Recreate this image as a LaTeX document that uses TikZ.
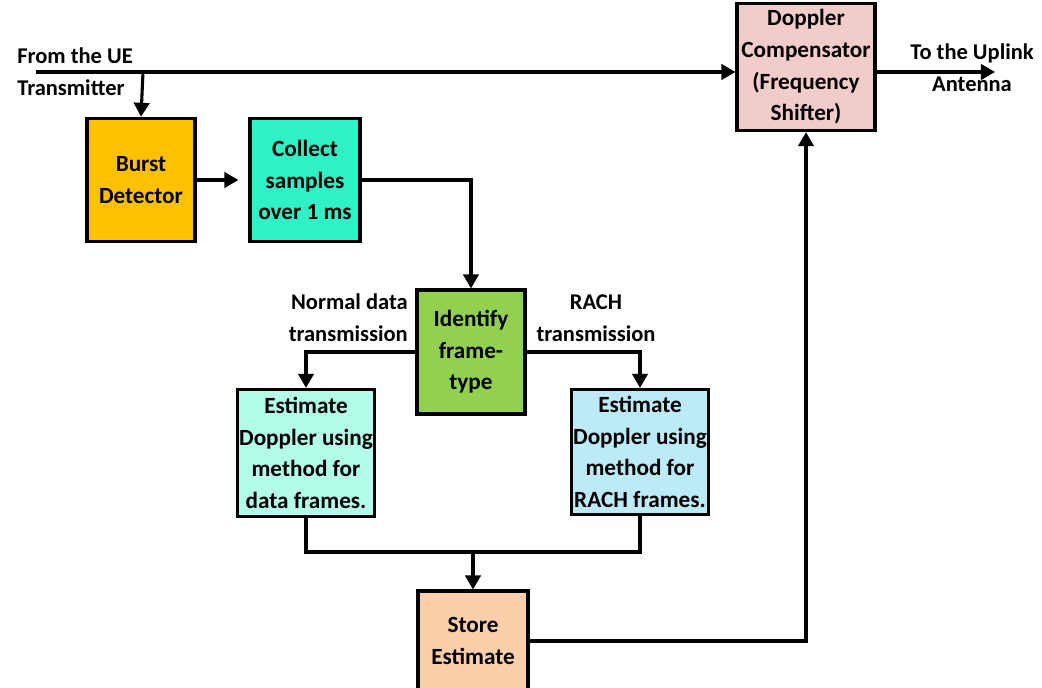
\documentclass[tikz,border=0pt]{standalone}
\usepackage{fontspec}
\setmainfont{Carlito}
\usetikzlibrary{calc,arrows.meta}
\definecolor{burstcol}{HTML}{FFC000}
\definecolor{collectcol}{HTML}{2EF2C6}
\definecolor{identcol}{HTML}{92D050}
\definecolor{estdatacol}{HTML}{B3FCEA}
\definecolor{estrachcol}{HTML}{BDEAF7}
\definecolor{dopcol}{HTML}{F2CBCB}
\definecolor{storecol}{HTML}{FBCFAA}
\tikzset{block/.style={draw=black,line width=2.2pt,align=center,inner sep=1pt,
    font=\fontsize{16.5}{22.5}\selectfont\bfseries},
  flow/.style={line width=2.2pt,-{Triangle[length=10pt,width=11pt]}},
  wire/.style={line width=2.2pt},
  side label/.style={inner sep=0pt,font=\fontsize{16}{22.5}\selectfont\bfseries}}
\def\bw{2.7cm}
\def\bh{3.08cm}

\begin{document}
\begin{tikzpicture}[x=0.025cm,y=-0.025cm]
\useasboundingbox (0,0) rectangle (1042,688);
% 座標設定
\coordinate (in) at (36,72);
\coordinate (tap) at (143,72);
\coordinate (out) at (995,72);
\coordinate (join) at (473,552);
% ブロックの描画
\node[block,fill=burstcol,minimum width=\bw,minimum height=\bh] (burst) at (141,180) {Burst\\Detector};
\node[block,fill=collectcol,minimum width=2.75cm,minimum height=\bh] (collect) at (305,180) {Collect\\samples\\over 1 ms};
\node[block,fill=identcol,minimum width=\bw,minimum height=3.1cm] (identify) at (471,352) {Identify\\frame-\\type};
\node[block,fill=estdatacol,minimum width=3.4cm,minimum height=3.18cm] (estdata) at (306,453) {Estimate\\Doppler using\\method for\\data frames.};
\node[block,fill=estrachcol,minimum width=3.42cm,minimum height=3.13cm] (estrach) at (640,452) {Estimate\\Doppler using\\method for\\RACH frames.};
\node[block,fill=dopcol,minimum width=3.45cm,minimum height=3.18cm] (doppler) at (806,67) {Doppler\\Compensator\\(Frequency\\Shifter)};
\node[block,fill=storecol,minimum width=2.75cm,minimum height=2.5cm] (store) at (473,641) {Store\\Estimate};
% ラベルの描画
\node[side label,anchor=west,align=left] (fromue) at (17,72) {From the UE\\Transmitter};
\node[side label,align=center] (touplink) at (972,68) {To the Uplink\\Antenna};
\node[side label,anchor=east,align=right] (normal) at (408,318) {Normal data\\transmission};
\node[side label,align=center] (rach) at (596,318) {RACH\\transmission};
% 矢印の描画
\draw[flow] (in) -- (in -| doppler.west);
\draw[flow] (tap) -- (burst.north);
\draw[flow,shorten >=0.25cm] (burst) -- (collect);
\draw[flow] (collect.east) -| (identify.north);
\draw[flow] (identify.west) -| (estdata.north);
\draw[flow] (identify.east) -| (estrach.north);
\draw[wire] (estdata.south) |- (join) -| (estrach.south);
\draw[flow] (join) -- (store.north);
\draw[flow] (store.east) -| (doppler.south);
\draw[flow] (doppler.east |- out) -- (out);
\end{tikzpicture}
\end{document}
